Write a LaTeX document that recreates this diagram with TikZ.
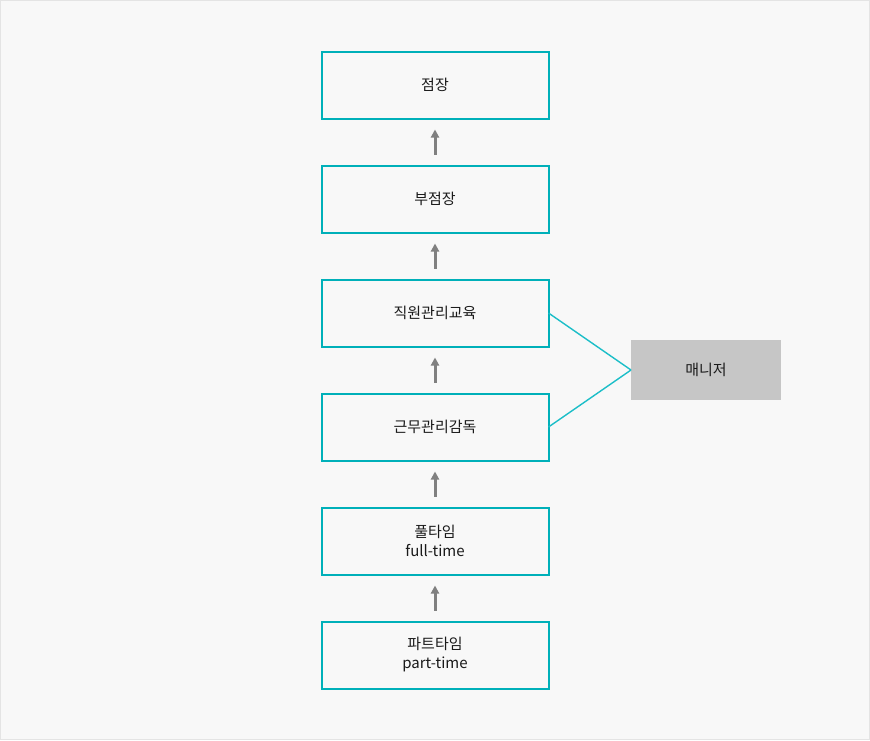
\documentclass[tikz,border=0pt]{standalone}
\usepackage{fontspec}
\setmainfont{Noto Sans CJK KR}
\usetikzlibrary{arrows.meta}

\definecolor{orgbg}{RGB}{248,248,248}
\definecolor{orgframe}{RGB}{228,228,228}
\definecolor{orgtext}{RGB}{26,26,26}
\definecolor{orgteal}{RGB}{0,176,185}
\definecolor{orglink}{RGB}{28,190,200}
\definecolor{orgarrow}{RGB}{128,128,128}
\definecolor{orggray}{RGB}{198,198,198}

\begin{document}
\begin{tikzpicture}[
  x=1pt,
  y=1pt,
  >={Triangle[width=8pt,length=8pt]},
  every node/.style={inner sep=0pt, outer sep=0pt},
  orgLabel/.style={font=\fontsize{15}{19}\selectfont, text=orgtext, align=center},
  orgBox/.style={draw=orgteal, fill=orgbg, line width=2pt, minimum width=227pt, minimum height=67pt, orgLabel},
  orgSide/.style={fill=orggray, minimum width=150pt, minimum height=60pt, orgLabel},
  orgUp/.style={draw=orgarrow, line width=3pt, ->, shorten <=11pt, shorten >=11pt},
  orgLink/.style={draw=orglink, line width=1.4pt}
]

  \path[use as bounding box] (0,0) rectangle (870,-740);
  \draw[orgframe, fill=orgbg, line width=1pt] (0.5,-0.5) rectangle (869.5,-739.5);

  % chain of positions, bottom to top
  \node[orgBox] (jeom)   at (435,-85)  {점장};
  \node[orgBox] (bujeom) at (435,-199) {부점장};
  \node[orgBox] (edu)    at (435,-313) {직원관리교육};
  \node[orgBox] (watch)  at (435,-427) {근무관리감독};
  \node[orgBox] (full)   at (435,-541) {풀타임\\full-time};
  \node[orgBox] (part)   at (435,-655) {파트타임\\part-time};

  \node[orgSide] (mgr) at (706,-370) {매니저};

  \draw[orgUp] (part.north)   -- (full.south);
  \draw[orgUp] (full.north)   -- (watch.south);
  \draw[orgUp] (watch.north)  -- (edu.south);
  \draw[orgUp] (edu.north)    -- (bujeom.south);
  \draw[orgUp] (bujeom.north) -- (jeom.south);

  \draw[orgLink] (edu.east)   -- (mgr.west);
  \draw[orgLink] (watch.east) -- (mgr.west);

\end{tikzpicture}
\end{document}
